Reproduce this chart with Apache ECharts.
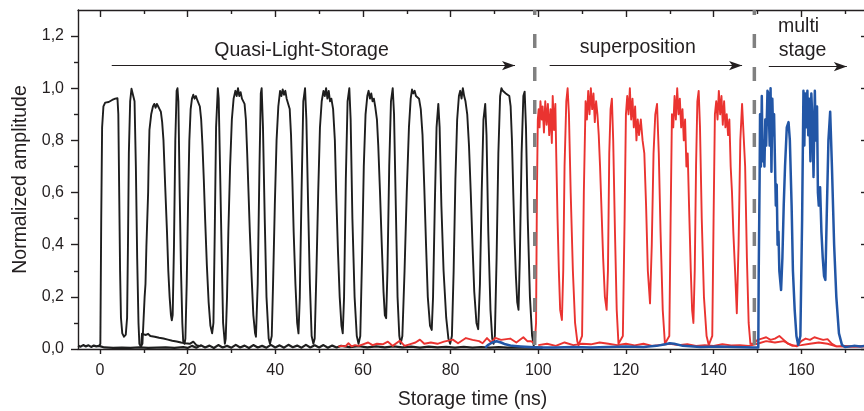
<!DOCTYPE html>
<html><head><meta charset="utf-8">
<script src="https://cdn.jsdelivr.net/npm/echarts@6/dist/echarts.min.js"></script>
<style>html,body{margin:0;padding:0;background:#fff}#c{width:864px;height:411px}</style>
</head><body><div id="c"></div>
<script>
// ---- tick values ----
const xMajorTicks = [0, 20, 40, 60, 80, 100, 120, 140, 160];
const xMinorTicks = [10, 30, 50, 70, 90, 110, 130, 150, 170];
const yMajorTicks = [0, 0.2, 0.4, 0.6, 0.8, 1.0, 1.2];
const yMinorTicks = [0.1, 0.3, 0.5, 0.7, 0.9, 1.1];

// ---- black: Quasi-Light-Storage ----
const blackBase = [[-5,0.013],[-4.4,0.009],[-3.8,0.015],[-3.2,0.01],[-2.6,0.014],[-2,0.008],[-1.4,0.013],[-0.8,0.01],[-0.2,0.012],
[1,0.006],[3,0.004],[5,0.005],[7,0.004],[9,0.006],[11,0.004],[13,0.005],[15,0.006],[17,0.004],[19,0.007],
[20,0.004],[21,0.012],[22,0.005],[23,0.014],[24,0.006],[25,0.013],[26,0.004],[27,0.015],[28,0.006],[29,0.012],[30,0.005],
[31,0.016],[32,0.006],[33,0.013],[34,0.004],[35,0.015],[36,0.006],[37,0.012],[38,0.005],[39,0.016],[40,0.006],
[41,0.014],[42,0.005],[43,0.016],[44,0.007],[45,0.013],[46,0.005],[47,0.016],[48,0.006],[49,0.014],[50,0.006],
[51,0.015],[52,0.005],[53,0.013],[54,0.006],[55,0.012],[57,0.007],[59,0.011],[61,0.006],[63,0.01],[65,0.006],
[67,0.01],[69,0.006],[71,0.009],[73,0.005],[75,0.009],[77,0.006],[79,0.008],[81,0.005],[83,0.008],[85,0.005],
[87,0.007],[89,0.005],[91,0.007],[93,0.005],[95,0.006],[97,0.005],[99,0.006],[101,0.005]];
const blackTail = [[9.4,0.008],[9.6,0.058],[10.5,0.054],[11.0,0.058],[11.5,0.05],[12.5,0.047],[13.5,0.043],[14.5,0.04],[15.5,0.036],
[16.5,0.032],[17.5,0.029],[18.5,0.025],[19.5,0.022],[20.5,0.02],[21.3,0.028],[22.0,0.015],[23.0,0.01]];
const blackPulse = [[-0.2,0.01],[0.1,0.02],[0.3,0.5],[0.5,0.85],[0.8,0.93],[1.2,0.945],[1.6,0.95],[2.0,0.947],[2.4,0.952],[2.8,0.955],
[3.2,0.958],[3.5,0.96],[3.8,0.966],[4.0,0.962],[4.2,0.9],[4.4,0.6],[4.6,0.3],[4.8,0.12],[5.1,0.06],[5.5,0.047],[5.9,0.055],
[6.2,0.12],[6.4,0.4],[6.6,0.75],[6.9,0.95],[7.2,0.998],[7.6,0.995],[7.9,0.95],[8.2,0.7],[8.5,0.35],[8.8,0.1],[9.0,0.02],[9.3,0.01],
[9.7,0.02],[10.2,0.2],[10.4,0.25],[10.6,0.39],[11.0,0.6],[11.1,0.7],[11.3,0.84],[11.7,0.9],[12.1,0.93],[12.4,0.94],[12.7,0.925],
[13.0,0.94],[13.3,0.93],[13.6,0.92],[13.9,0.91],[14.2,0.87],[14.5,0.8],[14.9,0.62],[15.3,0.45],[15.6,0.3],[15.9,0.2],[16.2,0.13],
[16.4,0.11],[16.6,0.13],[16.9,0.4],[17.2,0.8],[17.5,0.99],[17.7,1.0],[17.9,0.95],[18.2,0.6],[18.5,0.3],[18.8,0.1],[19.0,0.03],[19.3,0.02],
[19.5,0.04],[19.8,0.25],[20.1,0.55],[20.4,0.8],[20.7,0.92],[21.0,0.96],[21.3,0.975],[21.6,0.96],[21.9,0.97],[22.2,0.955],
[22.5,0.95],[22.8,0.93],[23.1,0.88],[23.4,0.78],[23.7,0.65],[24.0,0.5],[24.4,0.32],[24.8,0.18],[25.2,0.09],[25.6,0.06],
[25.9,0.1],[26.2,0.45],[26.5,0.85],[26.9,1.0],[27.1,0.96],[27.4,0.7],[27.8,0.35],[28.1,0.1],[28.5,0.02],
[28.7,0.04],[29.0,0.2],[29.3,0.45],[29.7,0.7],[30.1,0.88],[30.5,0.96],[30.9,0.99],[31.2,0.97],[31.5,1.0],[31.8,0.97],
[32.1,0.985],[32.4,0.96],[32.7,0.965],[33.0,0.94],[33.3,0.88],[33.6,0.75],[33.9,0.6],[34.2,0.45],[34.6,0.28],[35.0,0.13],
[35.4,0.06],[35.6,0.047],[36.0,0.25],[36.4,0.7],[36.7,0.98],[36.9,1.0],[37.2,0.85],[37.6,0.5],[38.0,0.2],[38.5,0.04],[38.8,0.02],
[39.2,0.05],[39.5,0.25],[39.9,0.55],[40.3,0.8],[40.7,0.93],[41.1,0.99],[41.4,0.97],[41.7,0.995],[42.0,0.975],[42.3,0.99],
[42.6,0.96],[43.0,0.965],[43.3,0.92],[43.6,0.82],[43.9,0.65],[44.2,0.45],[44.6,0.25],[45.0,0.1],[45.3,0.06],[45.6,0.2],
[46.0,0.6],[46.4,0.95],[46.8,1.0],[47.1,0.88],[47.5,0.55],[47.9,0.25],[48.3,0.05],[48.7,0.02],
[49.0,0.04],[49.4,0.3],[49.8,0.6],[50.2,0.85],[50.6,0.95],[51.0,0.99],[51.3,0.97],[51.6,1.0],[51.9,0.96],[52.2,0.99],
[52.5,0.95],[52.8,0.96],[53.2,0.92],[53.6,0.8],[53.9,0.6],[54.3,0.38],[54.7,0.2],[55.1,0.09],[55.4,0.06],[55.7,0.2],
[56.1,0.65],[56.5,0.95],[56.9,1.0],[57.2,0.88],[57.6,0.5],[58.1,0.2],[58.6,0.05],[59.0,0.02],
[59.4,0.05],[59.8,0.35],[60.2,0.7],[60.6,0.9],[61.0,0.97],[61.3,0.99],[61.6,0.96],[61.9,0.98],[62.2,0.95],[62.5,0.96],
[62.8,0.93],[63.2,0.88],[63.5,0.78],[63.9,0.6],[64.3,0.4],[64.7,0.22],[65.0,0.13],[65.3,0.118],[65.6,0.3],[66.0,0.7],
[66.4,0.95],[66.8,1.0],[67.1,0.9],[67.5,0.55],[67.9,0.2],[68.3,0.05],[68.6,0.02],
[69.0,0.05],[69.5,0.3],[70.0,0.6],[70.5,0.85],[70.9,0.96],[71.2,0.995],[71.5,0.98],[71.8,0.99],[72.1,0.97],[72.4,0.975],
[72.8,0.96],[73.2,0.92],[73.6,0.82],[74.0,0.62],[74.4,0.4],[74.8,0.2],[75.3,0.09],[75.7,0.073],[76.0,0.2],[76.4,0.55],
[76.8,0.85],[77.2,0.94],[77.5,0.85],[77.9,0.55],[78.4,0.3],[79.0,0.12],[79.5,0.04],[79.9,0.02],
[80.3,0.05],[80.7,0.3],[81.1,0.65],[81.5,0.88],[81.9,0.97],[82.2,0.99],[82.5,0.96],[82.8,1.0],[83.1,0.97],[83.4,0.95],
[83.8,0.9],[84.2,0.78],[84.6,0.6],[85.0,0.4],[85.4,0.22],[85.9,0.1],[86.3,0.076],[86.7,0.25],[87.1,0.6],[87.5,0.88],
[87.9,0.94],[88.2,0.82],[88.6,0.45],[89.1,0.15],[89.5,0.04],[89.8,0.02],
[90.1,0.05],[90.5,0.35],[90.9,0.75],[91.3,0.97],[91.6,1.0],[91.9,0.99],[92.2,0.995],[92.6,0.98],[93.0,0.985],[93.4,0.97],
[93.7,0.93],[94.0,0.8],[94.3,0.6],[94.6,0.42],[94.9,0.28],[95.2,0.18],[95.5,0.15],[95.8,0.35],[96.2,0.75],[96.6,0.97],
[96.9,0.987],[97.2,0.85],[97.6,0.5],[98.1,0.2],[98.6,0.05],[99.0,0.01]];

// ---- red: superposition ----
const redPulse = [[54.4,0.009],[55.2,0.012],[56.0,0.01],[56.7,0.022],[57.4,0.01],[58.2,0.015],[59.0,0.012],[60.0,0.018],
[61.2,0.025],[62.2,0.015],[63.2,0.02],[64.5,0.018],[65.7,0.028],[66.8,0.012],[68.4,0.032],[69.5,0.012],[71.0,0.02],
[72.0,0.025],[73.0,0.036],[74.0,0.02],[75.5,0.025],[77.0,0.02],[78.5,0.028],[80.5,0.036],[81.7,0.022],[83.5,0.042],
[85.0,0.035],[86.5,0.03],[87.3,0.022],[88.3,0.042],[89.3,0.025],[90.2,0.043],[91.5,0.035],[93.6,0.04],[95.0,0.025],
[96.6,0.045],[97.5,0.03],[98.4,0.03],[99.2,0.02],
[99.5,0.1],[99.7,0.6],[99.9,0.88],[100.1,0.92],[100.3,0.85],[100.5,0.95],[100.8,0.88],[101.0,0.93],[101.3,0.83],
[101.6,0.95],[101.9,0.86],[102.2,0.94],[102.5,0.82],[102.8,0.92],[103.1,0.79],[103.3,0.97],[103.6,0.84],[103.9,0.94],
[104.1,0.75],[104.4,0.5],[104.7,0.3],[105.0,0.15],[105.4,0.111],[105.7,0.3],[106.0,0.7],[106.4,0.95],[106.7,1.0],
[107.0,0.9],[107.4,0.6],[107.9,0.3],[108.4,0.1],[108.9,0.03],[109.2,0.015],
[110.0,0.05],[110.4,0.6],[110.8,0.95],[111.1,0.88],[111.4,0.99],[111.7,0.9],[112.0,1.0],[112.3,0.92],[112.6,0.98],
[112.9,0.87],[113.2,0.95],[113.5,0.9],[113.8,0.82],[114.1,0.7],[114.4,0.55],[114.8,0.35],[115.2,0.2],[115.6,0.15],
[115.9,0.3],[116.2,0.75],[116.5,0.92],[116.8,0.96],[117.1,0.8],[117.5,0.45],[117.9,0.15],[118.3,0.02],
[119.3,0.05],[119.7,0.5],[120.0,0.9],[120.3,0.97],[120.6,0.9],[120.9,1.0],[121.2,0.88],[121.5,0.96],[121.8,0.85],
[122.1,0.93],[122.4,0.8],[122.7,0.88],[123.0,0.82],[123.4,0.88],[123.8,0.8],[124.2,0.75],[124.6,0.55],[125.0,0.3],
[125.5,0.175],[125.9,0.4],[126.3,0.75],[126.7,0.9],[127.1,0.94],[127.5,0.75],[127.9,0.45],[128.4,0.15],[128.9,0.02],
[129.9,0.05],[130.2,0.5],[130.5,0.9],[130.8,0.85],[131.1,0.97],[131.4,0.88],[131.7,1.0],[132.0,0.9],[132.3,0.96],
[132.6,0.85],[132.9,0.92],[133.2,0.8],[133.5,0.88],[133.8,0.7],[134.1,0.75],[134.4,0.55],[134.8,0.3],[135.1,0.15],
[135.4,0.1],[135.7,0.3],[136.0,0.7],[136.3,0.95],[136.6,0.99],[136.9,0.85],[137.3,0.5],[137.8,0.2],[138.4,0.05],[138.9,0.015],
[139.7,0.05],[140.0,0.5],[140.3,0.9],[140.6,0.95],[140.9,0.88],[141.2,0.99],[141.5,0.9],[141.8,0.97],[142.1,0.86],
[142.4,0.95],[142.7,0.85],[143.0,0.9],[143.3,0.82],[143.6,0.88],[143.9,0.7],[144.2,0.6],[144.5,0.45],[144.9,0.3],
[145.3,0.137],[145.7,0.4],[146.1,0.8],[146.5,0.94],[146.8,0.94],[147.2,0.7],[147.6,0.35],[148.0,0.1],[148.4,0.02],
[149.2,0.02],[150.0,0.035],[151.0,0.04],[152.0,0.045],[153.0,0.035],[154.0,0.04],[155.0,0.05],[156.0,0.035],[157.0,0.02],
[158.0,0.015],[159.0,0.01],[160.0,0.03],[161.0,0.04],[162.0,0.035],[163.0,0.045],[164.0,0.04],[165.0,0.035],[166.0,0.038],
[167.0,0.02],[168.0,0.01],[170,0.012],[172,0.01],[175,0.012]];
const redLow = [[100,0.015],[102,0.02],[104,0.012],[106,0.025],[108,0.015],[110,0.02],[112,0.018],[114,0.025],[116,0.02],
[118,0.015],[120,0.02],[122,0.014],[124,0.02],[126,0.012],[128,0.016],[130,0.02],[132,0.015],[134,0.018],[136,0.012],
[138,0.015],[140,0.012],[142,0.018],[144,0.014],[146,0.015],[148,0.012],[150,0.02],[152,0.03],[154,0.025],[156,0.03],
[158,0.012],[160,0.015],[162,0.02],[164,0.025],[166,0.02],[168,0.01],[171,0.008],[175,0.01]];

// ---- blue: multi stage ----
const bluePulse = [[87.9,0.005],[88.5,0.015],[89.5,0.025],[90.5,0.03],[91.5,0.025],[92.5,0.018],[94,0.012],[96,0.01],
[98,0.008],[100,0.006],[104,0.006],[108,0.008],[112,0.006],[116,0.008],[120,0.01],[124,0.008],[127,0.012],[129,0.018],
[130,0.022],[131,0.02],[133,0.012],[137,0.008],[141,0.01],[145,0.008],[149,0.006],[150.2,0.006],
[150.3,0.3],[150.5,0.65],[150.6,0.9],[150.8,0.7],[151.0,0.97],[151.2,0.72],[151.4,0.8],[151.6,0.7],[151.8,0.88],
[152.0,0.78],[152.3,0.99],[152.5,0.98],[152.8,0.78],[153.0,1.0],[153.2,0.68],[153.4,0.96],[153.6,0.82],[153.8,0.9],
[154.0,0.72],[154.2,0.55],[154.4,0.63],[154.6,0.4],[154.8,0.45],[155.0,0.3],[155.4,0.226],[155.7,0.35],[156.0,0.55],
[156.3,0.7],[156.7,0.85],[157.1,0.87],[157.4,0.8],[157.8,0.55],[158.1,0.3],[158.5,0.15],[158.9,0.05],[159.3,0.015],
[159.8,0.05],[160.2,0.5],[160.5,0.99],[160.7,0.78],[160.9,0.98],[161.1,0.85],[161.4,0.99],[161.6,0.82],[161.8,0.96],
[162.1,0.72],[162.3,0.98],[162.6,0.85],[162.8,0.66],[163.1,0.99],[163.3,0.8],[163.6,0.93],[163.8,0.6],[164.0,0.55],
[164.3,0.62],[164.6,0.45],[164.9,0.35],[165.2,0.28],[165.5,0.265],[165.8,0.5],[166.2,0.8],[166.6,0.91],[167.0,0.7],
[167.5,0.4],[168.0,0.2],[168.6,0.06],[169.3,0.015],[170,0.008],[172,0.012],[173.5,0.01],[175,0.012]];

// ---- annotations ----
const dividerTimes = [99.2, 149.3];
const arrowSpans = [[2.7, 94.7, 1.087], [102.6, 146.5, 1.087], [152.6, 170.4, 1.083]];
const annotationTexts = [['Quasi-Light-Storage', 46.0, 1.145], ['superposition', 122.7, 1.157], ['multi', 159.4, 1.236], ['stage', 160.3, 1.146]];

const FONT = '"Liberation Sans", Arial, Helvetica, sans-serif';
const INK = '#231f20';
const fmtY = v => v.toFixed(1).replace('.', ',');

const chart = echarts.init(document.getElementById('c'), null, { renderer: 'canvas' });

function xAx(extra) {
  return Object.assign({
    type: 'value', min: -5, max: 175, splitLine: { show: false },
    axisLine: { show: false, onZero: false }, axisLabel: { show: false }, axisTick: { show: false }
  }, extra);
}
function yAx(extra) {
  return Object.assign({
    type: 'value', min: 0, max: 1.3, splitLine: { show: false },
    axisLine: { show: false, onZero: false }, axisLabel: { show: false }, axisTick: { show: false }
  }, extra);
}
const lineW = 1.4;

const option = {
  animation: false,
  backgroundColor: '#fff',
  grid: { left: 78, right: -3, top: 10, bottom: 62, containLabel: false, outerBoundsMode: 'none' },
  xAxis: [
    xAx({ position: 'bottom', name: 'Storage time (ns)', nameLocation: 'middle', nameGap: 41,
      nameTextStyle: { fontFamily: FONT, fontSize: 19.5, color: INK },
      axisLine: { show: true, onZero: false, lineStyle: { color: INK, width: lineW } },
      axisTick: { show: true, inside: false, length: 5, customValues: xMajorTicks, lineStyle: { color: INK, width: lineW } },
      axisLabel: { show: true, customValues: xMajorTicks, margin: 14, fontFamily: FONT, fontSize: 16, color: INK } }),
    xAx({ position: 'bottom',
      axisTick: { show: true, inside: false, length: 4, customValues: xMinorTicks, lineStyle: { color: INK, width: lineW } } }),
    xAx({ position: 'top',
      axisLine: { show: true, onZero: false, lineStyle: { color: INK, width: lineW } },
      axisTick: { show: true, inside: true, length: 7, customValues: xMajorTicks, lineStyle: { color: INK, width: lineW } } }),
    xAx({ position: 'top',
      axisTick: { show: true, inside: true, length: 4, customValues: xMinorTicks, lineStyle: { color: INK, width: lineW } } })
  ],
  yAxis: [
    yAx({ position: 'left', name: 'Normalized amplitude', nameLocation: 'middle', nameGap: 42,
      nameTextStyle: { fontFamily: FONT, fontSize: 19.5, color: INK },
      axisLine: { show: true, onZero: false, lineStyle: { color: INK, width: lineW } },
      axisTick: { show: true, inside: false, length: 7, customValues: yMajorTicks, lineStyle: { color: INK, width: lineW } },
      axisLabel: { show: true, customValues: yMajorTicks, margin: 14, fontFamily: FONT, fontSize: 16, color: INK, formatter: fmtY } }),
    yAx({ position: 'left',
      axisTick: { show: true, inside: false, length: 4, customValues: yMinorTicks, lineStyle: { color: INK, width: lineW } } }),
    yAx({ position: 'right',
      axisLine: { show: true, onZero: false, lineStyle: { color: INK, width: lineW } },
      axisTick: { show: true, inside: true, length: 6, customValues: yMajorTicks, lineStyle: { color: INK, width: lineW } } }),
    yAx({ position: 'right',
      axisTick: { show: true, inside: true, length: 3, customValues: yMinorTicks, lineStyle: { color: INK, width: lineW } } })
  ],
  series: []
};

function trace(data, color, width) {
  return { type: 'line', xAxisIndex: 0, yAxisIndex: 0, data: data, showSymbol: false, symbol: 'none',
    silent: true, lineStyle: { color: color, width: width, join: 'round' }, z: 3 };
}
option.series.push(trace(blackBase, '#1e1e1e', 2.2));
option.series.push(trace(blackTail, '#1e1e1e', 2.0));
option.series.push(trace(blackPulse, '#1e1e1e', 1.9));
option.series.push(trace(redPulse, '#ea3330', 1.9));
option.series.push(trace(redLow, '#ea3330', 1.9));
option.series.push(trace(bluePulse, '#2256a6', 2.5));
dividerTimes.forEach(t => {
  option.series.push({ type: 'line', xAxisIndex: 0, yAxisIndex: 0, data: [[t, 1.3], [t, 0]], showSymbol: false, symbol: 'none',
    silent: true, z: 5, lineStyle: { color: '#808080', width: 3.5, type: [14, 19], dashOffset: 9 } });
});
option.series.push({
  type: 'line', xAxisIndex: 0, yAxisIndex: 0, data: [], silent: true, z: 6,
  markLine: { silent: true, animation: false, symbol: ['none', 'arrow'], symbolSize: [7, 13],
    label: { show: false }, emphasis: { disabled: true },
    lineStyle: { color: INK, width: 1.2, type: 'solid' },
    data: arrowSpans.map(a => [{ coord: [a[0], a[2]] }, { coord: [a[1], a[2]] }]) }
});

chart.setOption(option);

const g = annotationTexts.map(a => {
  const p = chart.convertToPixel({ xAxisIndex: 0, yAxisIndex: 0 }, [a[1], a[2]]);
  return { type: 'text', x: p[0], y: p[1], z: 10, silent: true,
    style: { text: a[0], font: '19.5px ' + FONT, fill: INK, align: 'center', verticalAlign: 'middle' } };
});
chart.setOption({ graphic: g });
</script>
</body></html>
